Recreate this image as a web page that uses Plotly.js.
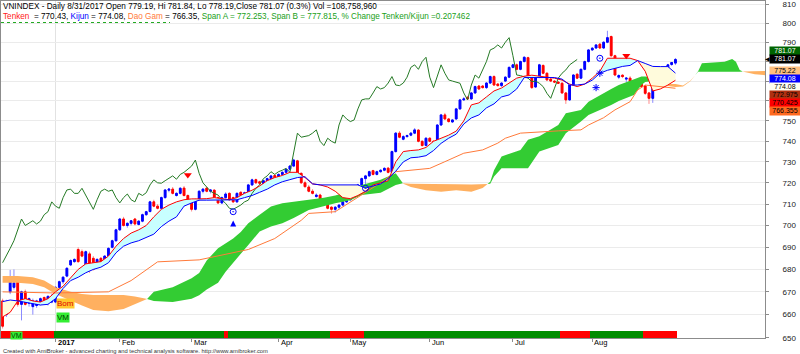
<!DOCTYPE html>
<html><head><meta charset="utf-8">
<script src="https://cdn.plot.ly/plotly-3.0.1.min.js"></script>
<style>html,body{margin:0;padding:0;background:#fff}#chart{width:800px;height:354px}</style>
</head><body><div id="chart"></div>
<script>
// bar index 0 = 13 Dec 2016 ... bar 178 = 31 Aug 2017 (trading days only)
const openP = [666,660,670,672,675,664.5,670,665,663.5,664,
664.5,667.5,665,665.5,665.5,672,674.5,677,682,683.5,
689,688,682,687,685,682,685,683,686,690,
693,698,703,700,701,703,700.5,702,705,706.5,
711,709,708,713,716.5,717,714,715,717.5,714,
711,707.5,712,716,717.5,716,716.5,713,710.5,713,
715,713,711,715.5,714,715.5,719,721.5,720.5,719.5,
721,722,723.5,721.5,724,725,726.5,728,730.5,724.5,
720,718,716,713.5,714.2,712,710.3,708.5,707.5,708.5,
709.5,711,712,715,717.4,719,722,723.3,725.8,724,
725.3,726,727,725,735,744,741,742.3,743,744,
745.5,740,738,741.5,740,739,748,753,751,749.5,
751,756,760.5,761.8,761,764,767.5,767.5,766.7,769,
772.3,768.5,767.7,770,772,777,778.3,776,780,782,
772,767,772,778,774,771,770,769.5,768.9,764,
760.5,768,773.5,771.5,776,780,786,787,789,787,
790,793,783,772,773,771,771.5,769,770.5,769,
767.5,764,761.3,766.4,771.5,774,775.7,778.5,779.19];
const highP = [667,666.5,679.8,680,676,670.5,671,667.5,667,666.5,
667.5,668,668.5,669,672.5,675,677,681,684.5,685,
690,689,688.5,688,686,685,685.5,686.5,690,693.5,
698.5,703.5,704,701.5,702.5,703.5,702.5,705.5,706.8,711.5,
712,710,713.5,717,717.5,718,715.5,718,718.5,714.5,
711.5,712.5,716.5,717.5,718,717,717,713.5,713.5,715.5,
715.5,713.5,715.5,716,715.8,719.5,722,722,721,721.5,
722.5,723.8,724,724.5,725.5,727,728.5,731.5,731,725,
721,719,717,715,714.8,712.5,711,709,709,710,
711.5,712.5,715.5,718,719.5,722.5,723.8,725.8,726.2,725.8,
726.5,727.5,727.5,735.5,744.5,745,743,743.3,744.5,746.5,
746,740.5,742,742,740.5,748.5,753.5,754,751.5,751,
756.5,761,762,762.5,764.5,767.7,768,768,769.5,772.8,
773,769,769.5,772.5,777.5,778.8,779,780.5,782.7,782.5,
772.5,772.5,778.8,778.5,774.5,771.5,770.5,770,769.5,764.5,
768.5,773.5,774,776.5,780.5,786.5,787.5,789,789.5,790.5,
796,793.5,783.5,773.5,773.5,772,772.5,770.5,771,769.5,
768,764.5,767,772,774.5,776,778.8,779.8,781.84];
const lowP = [654,659,669,671,663.5,657.5,664,663.5,660,663,
664,664.5,664,665,665,671.5,673.5,676.5,681.5,683,
683,685.5,681,678.5,679.5,681.5,682.5,682.5,685.5,689.5,
692.5,697.5,699.5,699,700,700,700,701.5,704.5,706,
708.5,707.5,707.5,712.5,715.5,714.5,713.5,714.5,713.5,710.5,
706.5,707,711.5,715,715.5,715,712.5,710,710,712.5,
711.5,710.5,710.5,713.5,713.5,715,718.5,719.5,719,719,
720.5,721.5,721,721,723.5,724.5,726,727.5,724,719.5,
717.5,715.5,714.5,713,711.5,709.8,707.5,705.5,706,707.5,
709,710.5,711.5,714.5,716.5,718.5,715,722.8,723.5,723.5,
724.8,725.5,724.5,724.5,734.5,741.5,740.5,741.8,742.5,743.5,
739.5,737.5,737.5,739.5,738.5,738.5,747.5,750.5,749.2,749,
750.5,755.5,760,760.5,760.5,763.5,765.5,766.2,766,768.5,
767.5,767.2,767,769.5,771.5,776.5,775.5,775.5,779.5,771.5,
766,766.5,771.5,773.5,770,769.5,769,768.5,763.5,758.5,
760,767.5,771,771,775.5,779.5,785.5,786.5,786.5,786.5,
789.5,782.5,772.5,771,771.5,769.5,769.2,768.5,768.5,766.5,
763,758.5,759,766,771,773.5,775.2,777.8,778.19];
const closeP = [655,665.7,675,674,664.5,670,664.5,667,666,666,
667,665,668,667.5,672,674.5,676.5,680.5,684,684.5,
683.5,686,688,679.5,680,684.5,683,686,689.5,693,
698,703,700,701,702.2,700.7,702,705,706.4,711,
709,708,713,716.6,717,715,715,717.4,714,711,
707.5,712,716,717,716,716.6,713,710.5,713,714.7,
712,711,715,714,715.3,719,721.4,720,719.8,721,
722,723.3,721.7,724,725,726.4,728,730.9,724.5,720,
718.2,716,715,714.2,712,710.3,708,707.5,708.5,709.5,
711,711.8,715,717.4,719,722,723.3,725.3,724,725.3,
726,726.9,725,735,744,742,742.3,742.8,744,745.6,
740,737.9,741.5,740,739.1,748,753,751,749.7,750.5,
756,760.5,761,761,764,767.2,766,766.7,769,772.3,
768,767.7,769,772,777,778.3,776,780,782.2,772,
766.7,772,778.3,774,770.6,770,769.5,768.9,764,760.5,
768,773.1,771.5,776,780,786,786.9,788.6,787,790,
792.4,783,773.1,772.8,772.3,771.5,769.7,770,768.9,767.2,
763.8,761.3,766.4,771.5,774,775.7,778.3,779.5,781.07];

const monthTickIdx = [14,31,50,73,92,113,135,156];
const monthTickText = ['2017','Feb','Mar','Apr','May','Jun','Jul','Aug'];

// Tenken / Kijun read every second bar (0,2,...,178)
const tkIdx = [0,2,4,6,8,10,12,14,16,18,20,22,24,26,28,30,32,34,36,38,40,42,44,46,48,50,52,54,56,58,60,62,64,66,68,70,72,74,76,78,80,82,84,86,88,90,92,94,96,98,100,102,104,106,108,110,112,114,116,118,120,122,124,126,128,130,132,134,136,138,140,142,144,146,148,150,152,154,156,158,160,162,164,166,168,170,172,174,176,178];
const tenkan = [659,661,666,667,666,665.5,667,670,672.5,676,680,682.5,683,683.5,686,690.5,694,696.5,698,700,704,707.5,709.5,711,712,712.4,712.4,712.5,713,712.5,712,713,715,716.5,718.5,721,722.5,723.5,725,725,722.5,719.5,719,718,716,713,712.5,714,716,719,720,721,730,735,735.5,735.8,737,740,741.5,743,745,750,758,759,762,765,766.5,769,771.5,772.5,773,772.5,772,771.5,770.5,768.5,767.2,768.5,771.5,775,781.7,781.7,781.7,781.7,780.5,775,765,766,768,770.425];
const kijun = [665.7,666.4,666,665.5,665,664.2,664.5,667,671.5,675,676.5,678.5,680,681,683,687.5,690.5,692,693,694.5,696,699.5,702,704,709,710.5,711.8,711.8,711.8,711.8,711.8,712,713,714,715.5,717,719,720.5,721.5,722.5,722.9,719.5,719,719,719,719,719,719,717.5,718.5,719.5,722,725.5,730,732,732.3,733,735.5,739,741.5,743.5,748.5,751.5,753,756.5,758.5,762,763,766,771.8,771.8,771.8,771.8,771.8,771,768,768,768.5,770.5,774,775.5,776.5,777.5,778,780.5,779,777.5,777.4,777.4,774.08];

// Cloud (Span A / Span B, already displaced 26 bars forward)
const cloudIdx = [0,4,8,11,14,18,21,24,28,32,35,38,40,45,50,52,54,57,59,61,63,65,68,71,74,77,81,85,88,92,95,100,104,106,108,112,116,120,124,127,129,130,132,137,139,142,147,149,153,155,158,161,163,167,169,170,172,174,176,178,180,182,184,185,191,193,194,195,196,199,202];
const spanA = [674,674,673.5,672,669,666,664,662,661.5,662.5,664.5,666.5,670,672,676,678.4,684,689.6,692,694,697,701,705,708.8,710.4,711,711.8,712.9,714,716,719,721.4,724.5,719.5,718,716.5,715.8,716.5,715.8,717.5,720.5,726,732.6,735.8,740.7,742.5,748,753.8,755.5,759.6,763,766,768,770.6,772.3,772.3,771.8,770,767.5,767,767.3,770,775,779.1,779.9,781.3,779.9,775.7,774.7,773.5,772.975];
const spanB = [677,677,676.5,675,672,670,669,668.6,668.6,668.6,668,667,666,665.5,667,668.5,671,674,679,683,687,691.1,697.2,699.5,701,703.5,707.2,709,710.4,711.8,714.2,715.3,719,719.8,719.5,719.5,719.3,719.3,719.2,719.3,719.5,723,726.9,726.9,726.9,735,738.2,744,749.7,753,755.5,758,760,763,768,769.5,770,770.5,768.5,768.5,767.8,770.3,774.8,774.8,774.8,774.8,774.8,774.8,774.9,775.2,775.22];

// Dao Gam line
const daoIdx = [0,14,28,34,41,52,65,72,79,81,88,92,95,100,104,113,117,122,127,131,133,137,147,153,155,159,162,166,168,170,175,178];
const daoGam = [670,669.5,670,675,683.4,684.3,689,694,702.4,705.6,706.4,711,714.2,720,725.3,726.9,730.1,734.2,735.8,739.1,741.5,744,745.1,745.6,748,751.6,755.5,759.6,765.5,768,767,766.355];

// bottom ribbon
const ribbonStart = [0,14,59,60,87,96,148,156,170];
const ribbonColor = ['#ff0000','#008c00','#ff0000','#008c00','#ff0000','#008c00','#ff0000','#008c00','#ff0000'];

// signals
const triIdx = [49,165], triVal = [723.7,783.0];
const circIdx = [61,96,158], circVal = [706.4,717.4,781.7];
const arrowIdx = [61], arrowVal = [702.3];
const starIdx = [157,158], starVal = [766.7,774.0];
const bomIdx = 14, bomVal = 665.0, vmIdx = 14, vmVal = 658.8, vmRibbonIdx = 2;

const headerLine1 = 'VNINDEX - Daily 8/31/2017 Open 779.19, Hi 781.84, Lo 778.19,Close 781.07 (0.3%) Vol =108,758,960';
const hdrTenken = '770.43', hdrKijun = '774.08', hdrDao = '766.35', hdrSpanA = '772.253', hdrSpanB = '777.815', hdrPct = '0.207462';
const footer = 'Created with AmiBroker - advanced charting and technical analysis software. http://www.amibroker.com';

// ---------- layout geometry ----------
const W=800,H=354,mL=1,mR=35,mT=1,mB=16;
const pw=W-mL-mR, ph=H-mT-mB;
const xRange=[-0.423,201.69];
const yRange=[Math.log10(649.9),Math.log10(811.8)];
const px2x=p=>(p-mL)/pw, py2y=p=>1-(p-mT)/ph;
const yPix=v=>mT+ph*(1-(Math.log10(v)-yRange[0])/(yRange[1]-yRange[0]));
const FONT='Liberation Sans, Arial, sans-serif';

const N=closeP.length;
const idx=closeP.map((_,i)=>i);

function fillSegments(xs,a,b){
  const segs=[];let cur=null;
  const push=(x,ya,yb,up)=>{if(!cur||cur.up!==up){cur={up,x:[],a:[],b:[]};segs.push(cur);}cur.x.push(x);cur.a.push(ya);cur.b.push(yb);};
  for(let i=0;i<xs.length;i++){
    const d=a[i]-b[i];const up=d>=0;
    if(i>0){const dp=a[i-1]-b[i-1];
      if((dp>=0)!==up){const t=dp/(dp-d);const xc=xs[i-1]+t*(xs[i]-xs[i-1]);const yc=a[i-1]+t*(a[i]-a[i-1]);
        push(xc,yc,yc,dp>=0);push(xc,yc,yc,up);}}
    push(xs[i],a[i],b[i],up);
  }
  return segs;
}
function polyTraces(segs,upColor,downColor){
  return segs.map(s=>({type:'scatter',mode:'lines',x:s.x.concat(s.x.slice().reverse()),y:s.a.concat(s.b.slice().reverse()),
    fill:'toself',fillcolor:s.up?upColor:downColor,line:{width:0},hoverinfo:'skip',showlegend:false}));
}

const traces=[];
traces.push(...polyTraces(fillSegments(cloudIdx,spanA,spanB),'#33cc33','#ffb060'));
traces.push(...polyTraces(fillSegments(tkIdx,tenkan,kijun),'#c8ffff','#fffbdc'));
traces.push({type:'scatter',mode:'lines',x:daoIdx,y:daoGam,line:{color:'#ff7a3a',width:1},hoverinfo:'skip'});
traces.push({type:'scatter',mode:'lines',x:idx.slice(26).map(k=>k-26),y:closeP.slice(26),line:{color:'#257a25',width:1},hoverinfo:'skip'});
traces.push({type:'scatter',mode:'lines',x:tkIdx,y:tenkan,line:{color:'#ff0000',width:1},hoverinfo:'skip'});
traces.push({type:'scatter',mode:'lines',x:tkIdx,y:kijun,line:{color:'#0000ff',width:1},hoverinfo:'skip'});
traces.push({type:'candlestick',x:idx,open:openP,high:highP,low:lowP,close:closeP,
  increasing:{line:{color:'#8a8aff',width:1},fillcolor:'#8a8aff'},decreasing:{line:{color:'#ff8a8a',width:1},fillcolor:'#ff8a8a'},
  whiskerwidth:0,hoverinfo:'skip'});
traces.push({type:'candlestick',x:idx,open:openP,close:closeP,
  high:openP.map((o,i)=>Math.max(o,closeP[i])),low:openP.map((o,i)=>Math.min(o,closeP[i])),
  increasing:{line:{color:'#0000ff',width:1},fillcolor:'#0000ff'},decreasing:{line:{color:'#ff0000',width:1},fillcolor:'#ff0000'},
  whiskerwidth:0,hoverinfo:'skip'});
traces.push({type:'scatter',mode:'markers',x:triIdx,y:triVal,marker:{symbol:'triangle-down',size:7,color:'#ff0000'},hoverinfo:'skip'});
traces.push({type:'scatter',mode:'markers',x:circIdx,y:circVal,marker:{symbol:'circle-open-dot',size:6,color:'#0000ff',line:{color:'#0000ff',width:1}},hoverinfo:'skip'});
traces.push({type:'scatter',mode:'markers',x:arrowIdx,y:arrowVal,marker:{symbol:'arrow-up',size:6,color:'#0000ff'},hoverinfo:'skip'});
traces.push({type:'scatter',mode:'markers',x:starIdx,y:starVal,marker:{symbol:'asterisk-open',size:6,color:'#0000ff',line:{color:'#0000ff',width:1}},hoverinfo:'skip'});
const ribbonCols=idx.map(k=>{let c=ribbonColor[0];for(let j=0;j<ribbonStart.length;j++){if(k>=ribbonStart[j])c=ribbonColor[j];}return c;});
traces.push({type:'bar',x:idx,y:idx.map(()=>0.021),base:0,width:1,yaxis:'y2',marker:{color:ribbonCols,line:{width:0}},hoverinfo:'skip'});

// ---------- annotations ----------
const ann=[];
ann.push({xref:'paper',yref:'paper',x:px2x(2),y:py2y(6.2),xanchor:'left',yanchor:'middle',showarrow:false,borderpad:0,text:headerLine1,font:{family:FONT,size:8.2,color:'#000'}});
ann.push({xref:'paper',yref:'paper',x:px2x(2),y:py2y(16.2),xanchor:'left',yanchor:'middle',showarrow:false,borderpad:0,
  text:'<span style="color:#ff2020">Tenken</span>  = '+hdrTenken+', <span style="color:#0000ff">Kijun</span> = '+hdrKijun+', <span style="color:#ff7a3a">Dao Gam</span> = '+hdrDao+', <span style="color:#20a020">Span A = '+hdrSpanA+', Span B = '+hdrSpanB+', % Change Tenken/Kijun ='+hdrPct+'</span>',
  font:{family:FONT,size:8.2,color:'#000'}});
ann.push({xref:'paper',yref:'paper',x:px2x(2),y:py2y(350.6),xanchor:'left',yanchor:'middle',showarrow:false,borderpad:0,text:footer,font:{family:FONT,size:5.8,color:'#333'}});
monthTickIdx.forEach((k,i)=>ann.push({xref:'x',yref:'paper',x:k,y:py2y(342.3),xanchor:'left',yanchor:'middle',xshift:1,showarrow:false,borderpad:0,
  text:i===0?'<b>'+monthTickText[i]+'</b>':monthTickText[i],font:{family:FONT,size:7.5,color:'#000'}}));
ann.push({xref:'x',yref:'y',x:bomIdx,y:Math.log10(bomVal),xanchor:'left',yanchor:'middle',showarrow:false,text:'Bom',bgcolor:'#ffc830',borderpad:0,font:{family:FONT,size:8,color:'#e00000'}});
ann.push({xref:'x',yref:'y',x:vmIdx,y:Math.log10(vmVal),xanchor:'left',yanchor:'middle',showarrow:false,text:'VM',bgcolor:'#33ee33',borderpad:0,font:{family:FONT,size:8,color:'#004000'}});
ann.push({xref:'x',yref:'paper',x:vmRibbonIdx,y:py2y(335),xanchor:'left',yanchor:'middle',showarrow:false,text:'VM',bgcolor:'#33ee33',borderpad:0,font:{family:FONT,size:7,color:'#004000'}});

// right value labels (stacked around the current-price label)
const L=tkIdx.length-1;
const labels=[
  {v:closeP[N-1],txt:closeP[N-1].toFixed(2),bg:'#006400',fg:'#ffffff'},
  {v:closeP[N-1],txt:closeP[N-1].toFixed(2),bg:'#000000',fg:'#ffffff',anchor:true},
  {v:spanB[spanB.length-1],txt:String(spanB[spanB.length-1]),bg:'#ffc080',fg:'#000'},
  {v:kijun[L],txt:String(kijun[L]),bg:'#0000ff',fg:'#ffffff'},
  {v:kijun[L],txt:String(kijun[L]),bg:'#fffff0',fg:'#000'},
  {v:spanA[spanA.length-1],txt:String(spanA[spanA.length-1]),bg:'#b03010',fg:'#000'},
  {v:tenkan[L],txt:String(tenkan[L]),bg:'#ff0000',fg:'#000'},
  {v:daoGam[daoGam.length-1],txt:String(daoGam[daoGam.length-1]),bg:'#ff6a20',fg:'#000'}
];
const gap=8;const ai=labels.findIndex(l=>l.anchor);
labels[ai].py=yPix(labels[ai].v);
for(let i=ai-1;i>=0;i--){labels[i].py=Math.min(yPix(labels[i].v),labels[i+1].py-gap);}
for(let i=ai+1;i<labels.length;i++){labels[i].py=Math.max(yPix(labels[i].v),labels[i-1].py+gap);}
labels.forEach(l=>{
  ann.push({xref:'paper',yref:'paper',x:px2x(769),y:py2y(l.py),xanchor:'left',yanchor:'middle',showarrow:false,text:l.txt,
    bgcolor:l.bg,width:30,height:7.5,borderpad:0,align:'center',font:{family:FONT,size:7,color:l.fg}});
  if(l.anchor){ann.push({xref:'paper',yref:'paper',x:px2x(764),y:py2y(l.py),xanchor:'left',yanchor:'middle',showarrow:false,borderpad:0,text:'◀',font:{family:FONT,size:6,color:'#000'}});}
});
const labTop=Math.min(...labels.map(l=>l.py))-4.5, labBot=Math.max(...labels.map(l=>l.py))+4.5;

const shapes=[
  {type:'line',xref:'x',yref:'paper',x0:monthTickIdx[0],x1:monthTickIdx[0],y0:0,y1:1,line:{color:'#e2e2e2',width:1},layer:'below'},
  {type:'line',xref:'paper',yref:'paper',x0:px2x(1),x1:px2x(170),y0:py2y(22.5),y1:py2y(22.5),line:{color:'#22aa22',width:1,dash:'dot'}}
];

const yt=[];for(let v=650;v<=810;v+=10)yt.push(v);
// tick labels hidden behind the value labels are not shown
const ytText=yt.map(v=>{const p=yPix(v);return (p>labTop&&p<labBot)?'':String(v);});
const layout={
  width:W,height:H,margin:{l:mL,r:mR,t:mT,b:mB,pad:0},paper_bgcolor:'#fff',plot_bgcolor:'#fff',showlegend:false,
  font:{family:FONT,size:8,color:'#222'},
  xaxis:{type:'linear',range:xRange,showgrid:false,zeroline:false,showline:true,mirror:true,linecolor:'#8c8c8c',linewidth:1,
    tickvals:monthTickIdx,ticks:'outside',ticklen:3,tickcolor:'#8c8c8c',showticklabels:false,rangeslider:{visible:false},fixedrange:true},
  yaxis:{type:'log',range:yRange,side:'right',tickvals:yt,ticktext:ytText,showgrid:true,gridcolor:'#ebebeb',gridwidth:1,zeroline:false,
    showline:true,mirror:true,linecolor:'#8c8c8c',linewidth:1,ticks:'outside',ticklen:3,tickcolor:'#8c8c8c',ticklabelstandoff:12,
    tickfont:{family:FONT,size:8,color:'#222'},fixedrange:true},
  yaxis2:{overlaying:'y',range:[0,1],visible:false,fixedrange:true},
  bargap:0,boxgap:0.35,shapes:shapes,annotations:ann
};
Plotly.newPlot('chart',traces,layout,{staticPlot:true,displayModeBar:false});
</script></body></html>
